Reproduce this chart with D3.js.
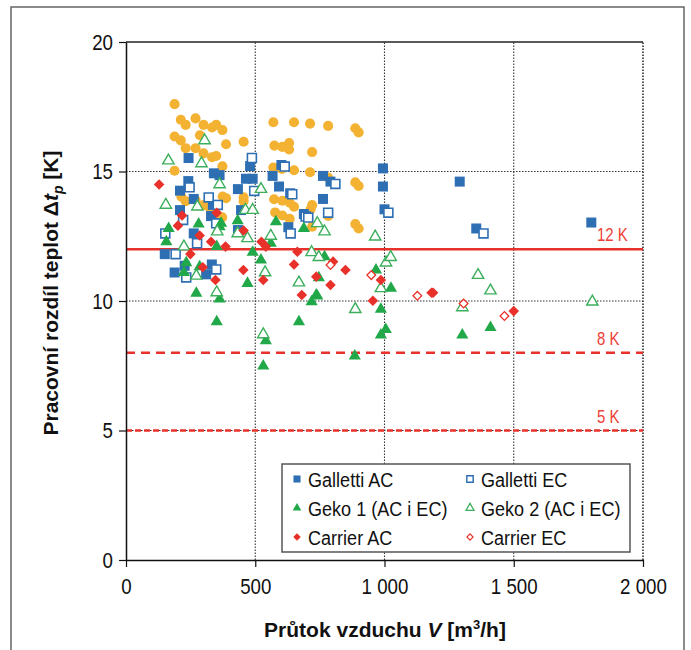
<!DOCTYPE html>
<html>
<head>
<meta charset="utf-8">
<script src="https://cdn.jsdelivr.net/npm/d3@7/dist/d3.min.js"></script>
<style>
  html, body { margin: 0; padding: 0; background: #fff; }
  svg { display: block; }
  text { font-family: 'Liberation Sans', Arial, sans-serif; fill: #111; }
</style>
</head>
<body>
<svg id="chart" width="691" height="650"></svg>
<script>
// Průtok vzduchu V [m3/h] vs. pracovní rozdíl teplot Δt_p [K]
const xTicks = [0, 500, 1000, 1500, 2000];
const yTicks = [0, 5, 10, 15, 20];

const gallettiAC = [
  [242,15.52],[480,15.21],[601,15.25],[340,14.93],[362,14.86],[464,14.72],[490,14.72],[567,14.83],
  [241,14.63],[209,14.26],[433,14.32],[592,14.42],[635,14.16],[262,13.94],[336,13.71],[445,13.51],
  [209,13.51],[329,13.28],[688,13.36],[433,12.74],[628,12.85],[262,12.61],[762,14.83],[791,14.61],
  [994,15.12],[994,14.42],[762,13.94],[1000,13.54],[150,11.81],[188,11.1],[227,11.36],[332,11.41],
  [310,11.03],[1291,14.61],[1355,12.8],[1800,13.03]
];
const gallettiEC = [
  [487,15.52],[614,15.19],[246,14.39],[496,14.25],[320,14.0],[643,14.12],[355,13.71],[221,13.13],
  [349,13.0],[152,12.61],[275,12.23],[637,12.61],[695,13.26],[192,11.81],[233,10.91],[349,11.22],
  [810,14.52],[782,13.41],[705,13.22],[1015,13.41],[1383,12.61]
];
const geko1 = [
  [432,13.1],[580,13.06],[688,12.8],[281,12.97],[165,12.8],[362,12.87],[368,13.0],[156,12.29],
  [351,12.1],[560,12.23],[233,11.48],[224,11.1],[285,11.32],[272,10.3],[362,10.08],[351,9.2],
  [490,11.88],[522,11.58],[470,10.68],[669,9.2],[718,9.97],[736,10.23],[541,8.47],[531,7.49],
  [768,11.71],[746,10.9],[740,10.19],[967,11.2],[1025,10.49],[986,9.68],[1005,8.9],[986,8.69],
  [885,7.88],[1301,8.69],[1410,8.98]
];
const geko2 = [
  [304,16.2],[164,15.42],[292,15.31],[362,14.5],[522,14.32],[154,13.71],[276,13.64],[462,13.51],
  [490,13.51],[353,12.68],[432,12.61],[470,12.42],[560,12.51],[224,12.1],[272,10.97],[351,10.33],
  [538,11.1],[669,10.71],[718,11.88],[531,8.71],[746,11.69],[1006,11.48],[1024,11.69],[986,10.49],
  [887,9.68],[1362,11.0],[1410,10.4],[1301,9.75],[964,12.48],[768,12.68],[740,13.0],[1804,9.97]
];
const carrierAC = [
  [128,14.5],[217,13.3],[201,12.91],[351,13.41],[285,12.53],[455,12.72],[329,12.29],[385,12.1],
  [524,12.29],[541,12.1],[249,11.81],[297,11.3],[346,10.81],[454,11.2],[531,10.81],[650,11.41],
  [663,11.9],[680,10.23],[736,10.94],[801,11.52],[849,11.2],[791,10.62],[986,10.81],[955,10.01],
  [1182,10.32],[1188,10.32],[1500,9.61]
];
const carrierEC = [
  [791,11.39],[949,11.0],[1127,10.2],[1306,9.9],[1464,9.42]
];
const ostatni = [
  [188,17.6],[212,17.0],[231,16.8],[269,17.05],[300,16.8],[333,16.7],[349,16.8],[373,16.6],
  [570,16.9],[650,16.9],[712,16.85],[782,16.76],[887,16.67],[900,16.51],
  [188,16.35],[212,16.2],[231,15.9],[269,15.9],[286,16.4],[300,15.7],[333,15.55],[349,15.6],
  [387,16.05],[455,16.15],[574,16.0],[605,15.95],[631,16.1],[631,15.85],[720,15.75],
  [188,15.03],[373,15.2],[570,15.15],[603,15.1],[650,15.05],[712,14.97],[782,14.77],[887,14.58],[900,14.44],
  [214,14.03],[231,13.85],[269,13.9],[300,13.7],[326,13.57],[374,14.03],[387,13.97],[455,14.0],
  [455,13.85],[573,13.93],[605,13.87],[633,13.8],[650,13.64],[720,13.7],[714,13.54],
  [372,13.23],[577,13.42],[605,13.3],[633,13.17],[720,12.87],[782,13.28],[887,12.97],[900,12.8]
];
// limit lines Δt_p
const limits = [12, 8, 5];
const limitLabels = ["12 K", "8 K", "5 K"];

const svg = d3.select("#chart");
const margin = { left: 126, top: 42, right: 48, bottom: 90 };
const W = 691, H = 650;
const x = d3.scaleLinear().domain([0, 2000]).range([margin.left, W - margin.right]);
const y = d3.scaleLinear().domain([0, 20]).range([H - margin.bottom, margin.top]);

const RED = "#e8312a", BLUE = "#2e6fb4", GREEN = "#21a849", GREEN2 = "#3daf5c", YELLOW = "#f4b232";

// condensed-looking text: horizontal squeeze around the anchor point
function squeezed(sel, ax, ay, k) {
  return sel.append("text").attr("transform", `translate(${ax},${ay}) scale(${k},1)`);
}

// outer frame
svg.append("rect").attr("x", 11).attr("y", 7).attr("width", 673).attr("height", 660)
  .attr("fill", "none").attr("stroke", "#666").attr("stroke-width", 1.5);

// dotted grid
const grid = svg.append("g");
grid.selectAll("line.v").data(xTicks.slice(1)).join("line")
  .attr("x1", d => x(d)).attr("x2", d => x(d)).attr("y1", y(0)).attr("y2", y(20))
  .attr("stroke", d => d === 2000 ? "#444" : "#333").attr("stroke-width", d => d === 2000 ? 1.8 : 1.1)
  .attr("stroke-dasharray", "1.5 1.5");
grid.selectAll("line.h").data(yTicks.slice(1, -1)).join("line")
  .attr("x1", x(0)).attr("x2", x(2000)).attr("y1", d => y(d)).attr("y2", d => y(d))
  .attr("stroke", "#333").attr("stroke-width", 1.1).attr("stroke-dasharray", "1.5 1.5");
svg.append("line").attr("x1", x(0)).attr("x2", x(2000)).attr("y1", y(20)).attr("y2", y(20))
  .attr("stroke", "#222").attr("stroke-width", 1.4);

// limit lines
const dashes = ["none", "9 6", "6 3"];
limits.forEach((v, i) => {
  svg.append("line").attr("x1", x(0)).attr("x2", x(2000)).attr("y1", y(v)).attr("y2", y(v))
    .attr("stroke", RED).attr("stroke-width", 2.6).attr("stroke-dasharray", dashes[i]);
  squeezed(svg, x(1822), y(v) - 8, 0.83)
    .attr("font-size", 18).style("fill", "#ee4038").text(limitLabels[i]);
});

// axes
const fmt = d3.formatLocale({ decimal: ",", thousands: " ", grouping: [3], currency: ["", ""] }).format(",");
const tickK = 0.85;
const xAxis = svg.append("g").attr("transform", `translate(0,${y(0)})`)
  .call(d3.axisBottom(x).tickValues(xTicks).tickFormat(fmt).tickSize(7).tickSizeOuter(0).tickPadding(11));
const yAxis = svg.append("g").attr("transform", `translate(${x(0)},0)`)
  .call(d3.axisLeft(y).tickValues(yTicks).tickSize(7).tickSizeOuter(0).tickPadding(6));
[xAxis, yAxis].forEach(a => {
  a.attr("font-family", null);
  a.selectAll("path").attr("stroke", "#111").attr("stroke-width", 1.5);
  a.selectAll("line").attr("stroke", "#111").attr("stroke-width", 1.2);
  a.selectAll("text").attr("font-size", 22).style("fill", "#111")
    .attr("transform", `scale(${tickK},1)`);
});
yAxis.selectAll("text").attr("x", -13 / tickK);

// axis titles
const xt = svg.append("text").attr("x", 385).attr("y", 637).attr("text-anchor", "middle")
  .attr("font-size", 21).attr("font-weight", "bold");
xt.append("tspan").text("Průtok vzduchu ");
xt.append("tspan").attr("font-style", "italic").text("V");
xt.append("tspan").text(" [m");
xt.append("tspan").attr("font-size", 13).attr("dy", -8).text("3");
xt.append("tspan").attr("dy", 8).text("/h]");

const yt = svg.append("text").attr("transform", "translate(58,293) rotate(-90)")
  .attr("text-anchor", "middle").attr("font-size", 21).attr("font-weight", "bold");
yt.append("tspan").text("Pracovní rozdíl teplot Δ");
yt.append("tspan").attr("font-style", "italic").text("t");
yt.append("tspan").attr("font-style", "italic").attr("font-size", 14).attr("dy", 5).text("p");
yt.append("tspan").attr("dy", -5).text(" [K]");

// markers
const sym = {
  square: d3.symbol().type(d3.symbolSquare),
  triangle: d3.symbol().type(d3.symbolTriangle),
  circle: d3.symbol().type(d3.symbolCircle),
  diamond: d3.symbol().type(d3.symbolSquare)
};
const series = [
  { data: ostatni, shape: "circle", size: 80, fill: YELLOW, stroke: "none" },
  { data: gallettiAC, shape: "square", size: 100, fill: BLUE, stroke: "none" },
  { data: gallettiEC, shape: "square", size: 80, fill: "#fff", stroke: BLUE, sw: 1.6 },
  { data: geko1, shape: "triangle", size: 64, fill: GREEN, stroke: "none" },
  { data: geko2, shape: "triangle", size: 56, fill: "#fff", stroke: GREEN2, sw: 1.4 },
  { data: carrierAC, shape: "diamond", size: 56, fill: RED, stroke: "none" },
  { data: carrierEC, shape: "diamond", size: 38, fill: "#fff", stroke: RED, sw: 1.3 }
];
const marks = svg.append("g");
series.forEach(s => {
  marks.append("g").selectAll("path").data(s.data).join("path")
    .attr("d", sym[s.shape].size(s.size)())
    .attr("transform", d => `translate(${x(d[0])},${y(d[1])})` + (s.shape === "diamond" ? " rotate(45)" : ""))
    .attr("fill", s.fill).attr("stroke", s.stroke).attr("stroke-width", s.sw || 0);
});

// legend
const legendItems = [
  { label: "Galletti AC", s: series[1], col: 0, row: 0 },
  { label: "Galletti EC", s: series[2], col: 1, row: 0 },
  { label: "Geko 1 (AC i EC)", s: series[3], col: 0, row: 1 },
  { label: "Geko 2 (AC i EC)", s: series[4], col: 1, row: 1 },
  { label: "Carrier AC", s: series[5], col: 0, row: 2 },
  { label: "Carrier EC", s: series[6], col: 1, row: 2 }
];
const lg = svg.append("g");
lg.append("rect").attr("x", 282).attr("y", 464).attr("width", 348).attr("height", 88)
  .attr("fill", "#fff").attr("stroke", "#555").attr("stroke-width", 1.5);
legendItems.forEach(it => {
  const mx = 297 + it.col * 173, cy = 479 + it.row * 29;
  lg.append("path").attr("d", sym[it.s.shape].size(it.s.size * 0.5)())
    .attr("transform", `translate(${mx},${cy})` + (it.s.shape === "diamond" ? " rotate(45)" : ""))
    .attr("fill", it.s.fill).attr("stroke", it.s.stroke).attr("stroke-width", it.s.sw ? it.s.sw * 0.9 : 0);
  squeezed(lg, mx + 11, cy + 7.5, 0.86).attr("font-size", 21).text(it.label);
});
</script>
</body>
</html>
